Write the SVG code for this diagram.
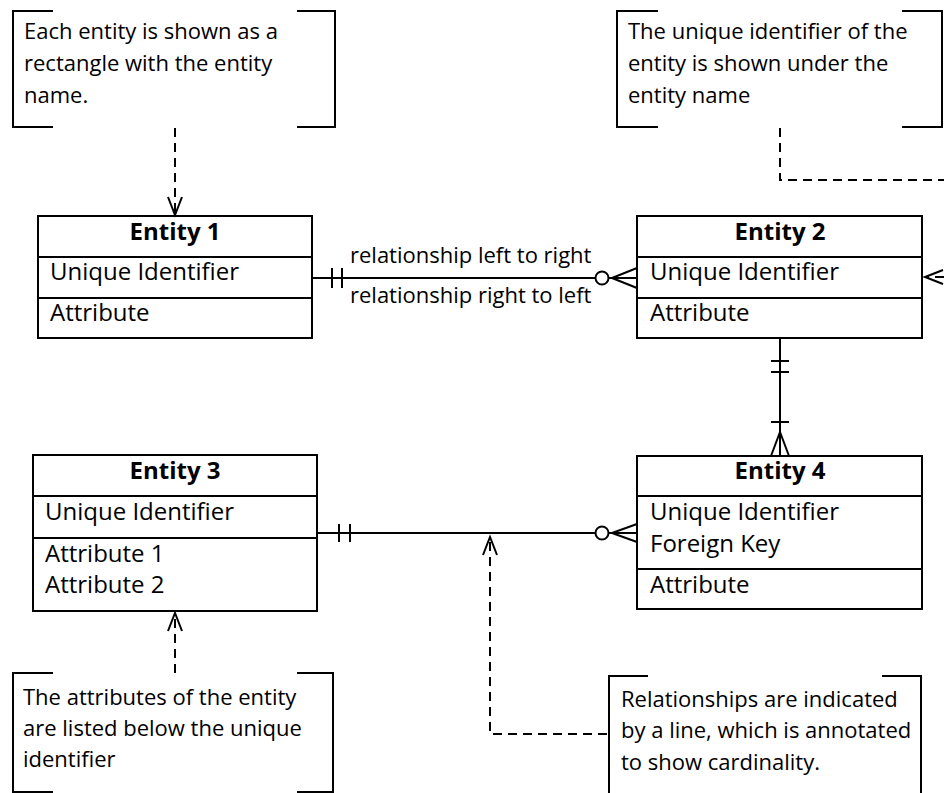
<svg xmlns="http://www.w3.org/2000/svg" width="944" height="793" viewBox="0 0 944 793">
<style>
text{font-family:"Open Sans","Liberation Sans",sans-serif;fill:#000}
.a{font-size:22px}
.e{font-size:24px}
.h{font-size:24px;font-weight:bold;text-anchor:middle}
.box{fill:#fff;stroke:#000;stroke-width:2}
.ln{stroke:#000;stroke-width:2;fill:none}
.br{stroke:#000;stroke-width:2;fill:none}
.dash{stroke:#000;stroke-width:2;fill:none;stroke-dasharray:9 6}
.circ{fill:#fff;stroke:#000;stroke-width:2}
</style>
<defs>
<marker id="arr" markerUnits="userSpaceOnUse" markerWidth="24" markerHeight="20" viewBox="-20 -10 24 20" refX="0" refY="0" orient="auto">
<path d="M-18,-7 L0,0 L-18,7" fill="none" stroke="#000" stroke-width="2" stroke-dasharray="none"/>
</marker>
</defs>
<rect width="944" height="793" fill="#fff"/>

<g id="note1">
<path class="br" d="M53,11 H13 V127 H53 M297,11 H335 V127 H297"/>
<text class="a" x="24" y="39">Each entity is shown as a</text>
<text class="a" x="24" y="71">rectangle with the entity</text>
<text class="a" x="24" y="103">name.</text>
</g>

<g id="note2">
<path class="br" d="M658,11 H617 V127 H658 M902,11 H942 V127 H902"/>
<text class="a" x="628" y="39">The unique identifier of the</text>
<text class="a" x="628" y="71">entity is shown under the</text>
<text class="a" x="628" y="103">entity name</text>
</g>

<g id="note3">
<path class="br" d="M53,673 H13 V792 H53 M297,673 H333 V792 H297"/>
<text class="a" x="23" y="705">The attributes of the entity</text>
<text class="a" x="23" y="736">are listed below the unique</text>
<text class="a" x="23" y="767">identifier</text>
</g>

<g id="note4">
<path class="br" d="M648,676 H609 V800 M882,676 H921 V800"/>
<text class="a" x="621" y="707">Relationships are indicated</text>
<text class="a" x="621" y="738">by a line, which is annotated</text>
<text class="a" x="621" y="770">to show cardinality.</text>
</g>

<g id="entity1">
<rect class="box" x="38" y="216" width="274" height="122"/>
<path class="ln" d="M38,257 H312 M38,298 H312"/>
<text class="h" x="175" y="240">Entity 1</text>
<text class="e" x="50" y="280">Unique Identifier</text>
<text class="e" x="50" y="321">Attribute</text>
</g>

<g id="entity2">
<rect class="box" x="637" y="216" width="285" height="122"/>
<path class="ln" d="M637,257 H922 M637,298 H922"/>
<text class="h" x="780" y="240">Entity 2</text>
<text class="e" x="650" y="280">Unique Identifier</text>
<text class="e" x="650" y="321">Attribute</text>
</g>

<g id="entity3">
<rect class="box" x="33" y="455" width="284" height="156"/>
<path class="ln" d="M33,496 H317 M33,538 H317"/>
<text class="h" x="175" y="479">Entity 3</text>
<text class="e" x="45" y="520">Unique Identifier</text>
<text class="e" x="45" y="562">Attribute 1</text>
<text class="e" x="45" y="593">Attribute 2</text>
</g>

<g id="entity4">
<rect class="box" x="637" y="456" width="285" height="153"/>
<path class="ln" d="M637,496 H922 M637,569 H922"/>
<text class="h" x="780" y="479">Entity 4</text>
<text class="e" x="650" y="520">Unique Identifier</text>
<text class="e" x="650" y="552">Foreign Key</text>
<text class="e" x="650" y="593">Attribute</text>
</g>

<g id="connectors">
<!-- Entity 1 to Entity 2 -->
<path class="ln" d="M312,278 H637"/>
<path class="ln" d="M332,268 V288 M342,268 V288"/>
<path class="ln" d="M612,278 L637,268 M612,278 L637,288"/>
<circle class="circ" cx="602" cy="278" r="6.5"/>
<text class="a" x="350" y="263">relationship left to right</text>
<text class="a" x="350" y="303">relationship right to left</text>

<!-- Entity 2 to Entity 4 -->
<path class="ln" d="M780,338 V456"/>
<path class="ln" d="M771,361 H789 M771,372 H789 M771,422 H789"/>
<path class="ln" d="M780,432 L771,456 M780,432 L789,456"/>

<!-- Entity 3 to Entity 4 -->
<path class="ln" d="M317,533 H637"/>
<path class="ln" d="M339,524 V542 M350,524 V542"/>
<path class="ln" d="M612,533 L637,524 M612,533 L637,542"/>
<circle class="circ" cx="602" cy="533" r="6.5"/>

<!-- annotation pointers -->
<path class="dash" d="M175,128 V215" marker-end="url(#arr)"/>
<path class="dash" d="M780,128 V180 H990 V277 H925" marker-end="url(#arr)"/>
<path class="dash" d="M175,673 V613" marker-end="url(#arr)"/>
<path class="dash" d="M607,734 H490 V537" marker-end="url(#arr)"/>
</g>
</svg>
